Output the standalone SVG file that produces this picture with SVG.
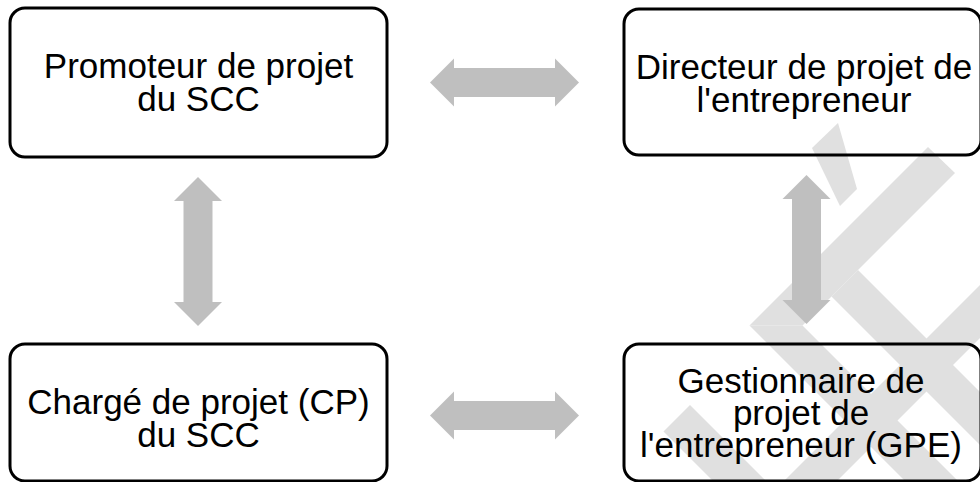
<svg xmlns="http://www.w3.org/2000/svg" width="980" height="482" viewBox="0 0 980 482">
<style>
.wm{fill:#e0e0e0}
.box{fill:none;stroke:#000;stroke-width:3}
.lbl{font-family:"Liberation Sans",Arial,sans-serif;font-size:35px;fill:#000;text-anchor:middle}
.arr{fill:#bfbfbf}
</style>
<defs>
<path id="dbl" d="M-74.5,0 L-50.5,-24 L-50.5,-14.5 L50.5,-14.5 L50.5,-24 L74.5,0 L50.5,24 L50.5,14.5 L-50.5,14.5 L-50.5,24 Z"/>
</defs>
<rect width="980" height="482" fill="#fff"/>
<g id="watermark">
<polygon class="wm" points="838,123 812,148 840,206 857,189"/>
<polygon class="wm" points="928,147 955,173 802.5,325.5 749.5,325.5"/>
<polygon class="wm" points="749.5,325.5 802.5,325.5 959,482 906,482"/>
<polygon class="wm" points="858,270 980,392 980,445 831.5,296.5"/>
<polygon class="wm" points="980,285 980,338 836,482 783,482"/>
<polygon class="wm" points="690,405 663.5,431.5 714,482 767,482"/>
</g>
<g id="connectors">
<use href="#dbl" class="arr" transform="translate(504.5,82.5)"/>
<use href="#dbl" class="arr" transform="translate(504.5,415.5)"/>
<use href="#dbl" class="arr" transform="translate(198,251.5) rotate(90)"/>
<use href="#dbl" class="arr" transform="translate(806.5,249.5) rotate(90)"/>
</g>
<g id="node-promoteur">
<rect class="box" x="10" y="8" width="377" height="149" rx="15"/>
<text class="lbl"><tspan x="198.5" y="78">Promoteur de projet</tspan><tspan x="198.5" y="111">du SCC</tspan></text>
</g>
<g id="node-directeur">
<rect class="box" x="624" y="9" width="357" height="146" rx="15"/>
<text class="lbl"><tspan x="804" y="79">Directeur de projet de</tspan><tspan x="804" y="112">l'entrepreneur</tspan></text>
</g>
<g id="node-charge">
<rect class="box" x="10" y="344" width="377" height="137" rx="15"/>
<text class="lbl"><tspan x="198.5" y="414">Chargé de projet (CP)</tspan><tspan x="198.5" y="447">du SCC</tspan></text>
</g>
<g id="node-gestionnaire">
<rect class="box" x="624" y="344" width="357" height="137" rx="15"/>
<text class="lbl"><tspan x="801" y="393">Gestionnaire de</tspan><tspan x="801" y="425">projet de</tspan><tspan x="801" y="457">l'entrepreneur (GPE)</tspan></text>
</g>
</svg>
